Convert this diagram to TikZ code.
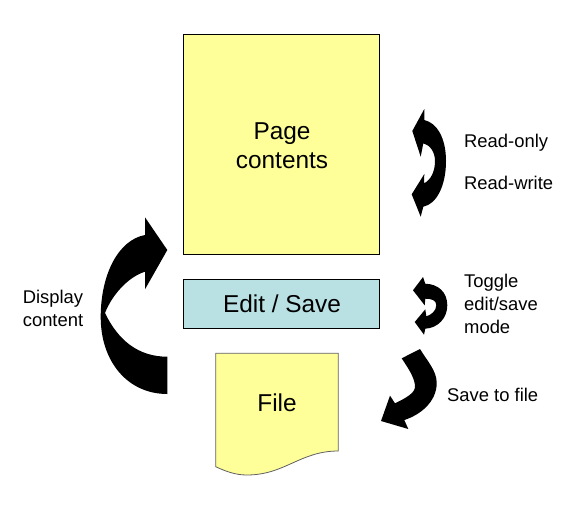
\documentclass[tikz,border=0pt]{standalone}
\usepackage{fontspec}
\setmainfont{Liberation Sans}
\tikzset{
  boxy/.style={draw=black,line width=0.8pt,inner sep=0pt,anchor=north west},
  bigtxt/.style={font=\fontsize{24.4}{29}\selectfont,align=center,inner sep=0pt},
  smalltxt/.style={font=\fontsize{18.4}{23}\selectfont,align=left,inner sep=0pt,anchor=west},
  blackarrow/.style={fill=black,draw=none}
}
\definecolor{noteyellow}{HTML}{FFFF99}
\definecolor{editblue}{HTML}{B9E1E4}
\definecolor{filegray}{HTML}{606060}
\begin{document}
\begin{tikzpicture}[x=1pt,y=-1pt]
\useasboundingbox (0,0) rectangle (577,525);
\node[boxy,fill=noteyellow,minimum width=196pt,minimum height=220pt] (page) at (183,34) {};
\node[bigtxt] (pagetext) at (282,146) {Page\\contents};
\node[boxy,fill=editblue,minimum width=196pt,minimum height=48.5pt] (edit) at (183,279) {};
\node[bigtxt] (edittext) at (282,304) {Edit / Save};
\path[fill=noteyellow,draw=filegray,line width=0.8pt] (215.7,353.3) -- (338.3,353.3) -- (338.3,451)
  .. controls (300,451) and (285,475) .. (246.7,475)
  .. controls (235,475) and (225,471) .. (215.7,466.7) -- cycle;
\node[bigtxt] (filetext) at (277,403) {File};
% big arrow
\path[blackarrow] (167.3,250) -- (145,217.3) -- (145,235)
  .. controls (118,240) and (100.7,275) .. (100.7,317)
  .. controls (100.7,362) and (128,394) .. (167.3,394)
  -- (167.3,356.7)
  .. controls (138,356.7) and (118,340) .. (105,313)
  .. controls (112,295) and (128,277) .. (145,271.7)
  -- (145,289.3) -- cycle;
% read-only / read-write arrow
\path[blackarrow] (424.3,109) -- (412.3,131) -- (420.7,156.7) -- (423.3,143.3)
  .. controls (430,145) and (435,152) .. (435,161)
  .. controls (435,171) and (431,180) .. (424,183.3)
  -- (424.3,174) -- (411.7,194.3) -- (420.7,216.7) -- (423.3,206.7)
  .. controls (437,204) and (446,185) .. (446,161)
  .. controls (446,138) and (437,123) .. (424.3,120) -- cycle;
% toggle arrow
\path[blackarrow] (423,277) -- (413,290.3) -- (424.7,305.3) -- (425.3,298.7)
  .. controls (431,298.7) and (436.3,300) .. (436.3,305)
  .. controls (436.3,311) and (431,315) .. (426.3,316.3)
  -- (425.3,309.3) -- (414.7,322) -- (424,334.7) -- (425.3,328.7)
  .. controls (438,328) and (447.3,318) .. (447.3,305.3)
  .. controls (447.3,292) and (438,284) .. (425.3,283.7) -- cycle;
% save arrow
\path[blackarrow] (401.7,358.3) -- (420,349)
  .. controls (428,362) and (436.7,371) .. (436.7,383)
  .. controls (436.7,402) and (420,415) .. (404.3,420)
  -- (408.3,429) -- (381,421) -- (390,395.7) -- (395,403.3)
  .. controls (406,398) and (415,393) .. (415,386.7)
  .. controls (415,378) and (408,368) .. (401.7,358.3) -- cycle;
\node[smalltxt] (ro) at (464,142.5) {Read-only};
\node[smalltxt] (rw) at (464,183) {Read-write};
\node[smalltxt] (toggle) at (464,303.5) {Toggle\\edit/save\\mode};
\node[smalltxt] (savef) at (447,395) {Save to file};
\node[smalltxt,align=center,anchor=center] (display) at (53,308.5) {Display\\content};
\end{tikzpicture}
\end{document}
